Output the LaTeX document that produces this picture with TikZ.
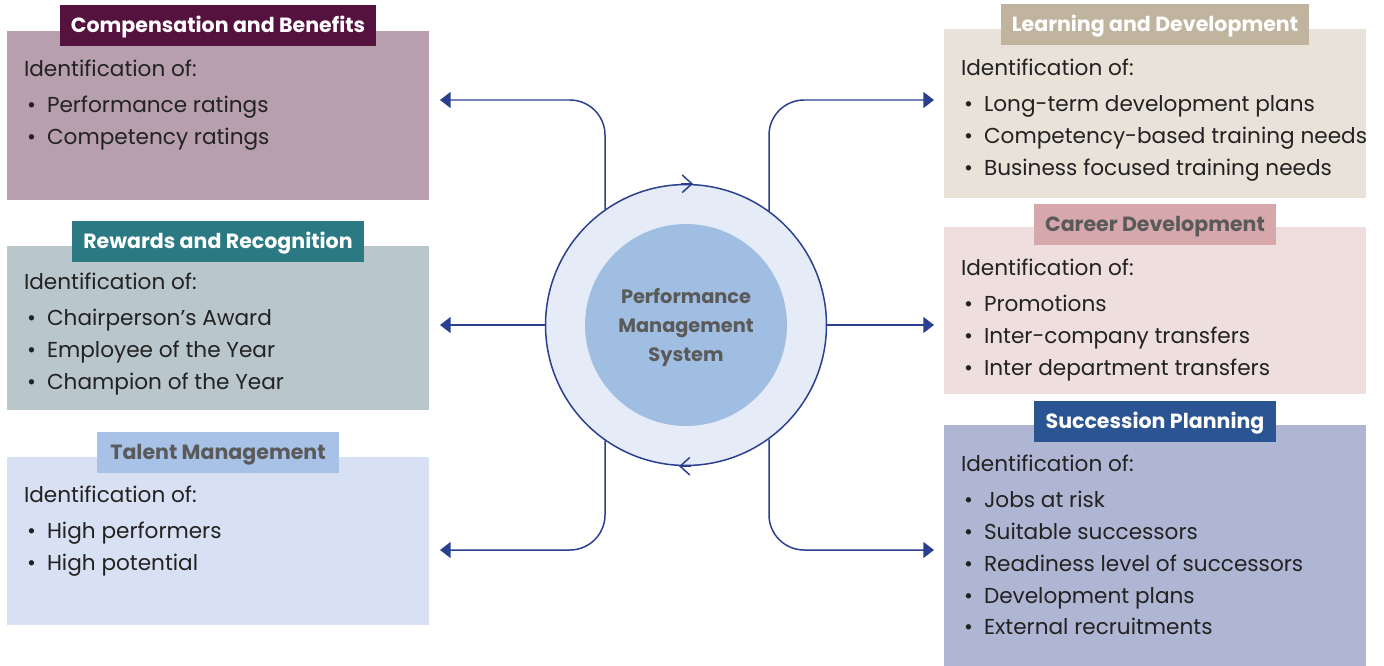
\documentclass[tikz,border=0pt]{standalone}
\usepackage{fontspec}
\setmainfont{Poppins}
\usepackage{xcolor}
\usetikzlibrary{arrows.meta,calc}
\definecolor{NavyLine}{HTML}{2B3F8F}
\definecolor{BodyText}{HTML}{222222}
\definecolor{GreyText}{HTML}{5A5A5A}
\definecolor{CompHead}{HTML}{56123F}
\definecolor{CompBody}{HTML}{B79FAD}
\definecolor{RewHead}{HTML}{2B7A83}
\definecolor{RewBody}{HTML}{B9C6CB}
\definecolor{TalHead}{HTML}{A8C2E7}
\definecolor{TalBody}{HTML}{D8E1F3}
\definecolor{LearnHead}{HTML}{C0B49E}
\definecolor{LearnBody}{HTML}{E8E2D9}
\definecolor{CarHead}{HTML}{D6A8AB}
\definecolor{CarBody}{HTML}{EEDEDE}
\definecolor{SuccHead}{HTML}{2B5592}
\definecolor{SuccBody}{HTML}{AFB6D4}
\definecolor{RingFill}{HTML}{E5ECF7}
\definecolor{CoreFill}{HTML}{A0BDE2}
\newcommand{\bul}[1]{\makebox[0.46cm][l]{\hspace{0.06cm}\textbullet}#1}

\begin{document}
\begin{tikzpicture}[x=0.02cm,y=-0.02cm,
  box/.style={rectangle,minimum width=8.44cm,inner sep=0pt},
  head/.style={rectangle,minimum width=4.84cm,minimum height=0.82cm,inner xsep=0.22cm,
    text height=8.2pt,text depth=0pt,
    font=\fontsize{11.7}{13}\selectfont\bfseries,text=white},
  body/.style={anchor=north west,align=left,inner sep=0pt,text=BodyText,
    font=\fontsize{12.3}{18.14}\selectfont},
  conn/.style={draw=NavyLine,line width=0.85pt,rounded corners=20pt,
    -{Triangle[length=6pt,width=9pt]}},
  chev/.style={draw=NavyLine,line width=0.85pt,-{Straight Barb[length=5.5pt,width=10pt]}}]
  \useasboundingbox (0,0) rectangle (1384,666);

  % boxes on the left
  \node[box,fill=CompBody,minimum height=3.38cm] (cb) at (218,115.5) {};
  \node[box,fill=RewBody,minimum height=3.28cm] (rr) at (218,328) {};
  \node[box,fill=TalBody,minimum height=3.36cm] (tm) at (218,541) {};
  % boxes on the right
  \node[box,fill=LearnBody,minimum height=3.38cm] (ld) at (1155,113.5) {};
  \node[box,fill=CarBody,minimum height=3.34cm] (cd) at (1155,310.5) {};
  \node[box,fill=SuccBody,minimum height=4.82cm] (sp) at (1155,545.5) {};

  % headers
  \node[head,fill=CompHead] at ([yshift=0.1cm]cb.north) {Compensation and Benefits};
  \node[head,fill=RewHead] at ([yshift=0.08cm]rr.north) {Rewards and Recognition};
  \node[head,fill=TalHead,text=GreyText] at ([yshift=0.08cm]tm.north) {Talent Management};
  \node[head,fill=LearnHead] at ([yshift=0.08cm]ld.north) {Learning and Development};
  \node[head,fill=CarHead,text=GreyText] at ([yshift=0.05cm]cd.north) {Career Development};
  \node[head,fill=SuccHead] at ([yshift=0.06cm]sp.north) {Succession Planning};

  % texts
  \node[body] at ([xshift=0.34cm,yshift=-0.58cm]cb.north west)
    {Identification of:\\[2.3pt]\bul{Performance ratings}\\\bul{Competency ratings}};
  \node[body] at ([xshift=0.34cm,yshift=-0.54cm]rr.north west)
    {Identification of:\\[2.3pt]\bul{Chairperson's Award}\\\bul{Employee of the Year}\\\bul{Champion of the Year}};
  \node[body] at ([xshift=0.34cm,yshift=-0.58cm]tm.north west)
    {Identification of:\\[2.3pt]\bul{High performers}\\\bul{High potential}};
  \node[body] at ([xshift=0.34cm,yshift=-0.6cm]ld.north west)
    {Identification of:\\[2.3pt]\bul{Long-term development plans}\\\bul{Competency-based training needs}\\\bul{Business focused training needs}};
  \node[body] at ([xshift=0.34cm,yshift=-0.64cm]cd.north west)
    {Identification of:\\[2.3pt]\bul{Promotions}\\\bul{Inter-company transfers}\\\bul{Inter department transfers}};
  \node[body] at ([xshift=0.34cm,yshift=-0.6cm]sp.north west)
    {Identification of:\\[2.3pt]\bul{Jobs at risk}\\\bul{Suitable successors}\\\bul{Readiness level of successors}\\\bul{Development plans}\\\bul{External recruitments}};

  % central circle
  \node[circle,draw=NavyLine,line width=0.85pt,fill=RingFill,minimum size=5.62cm] (ring) at (686,325) {};
  \node[circle,fill=CoreFill,minimum size=4.04cm] (core) at (ring.center) {};
  \node[align=center,text=GreyText,font=\fontsize{11}{16.7}\selectfont\bfseries]
    (corelabel) at ([yshift=-0.05cm]core.center) {Performance\\Management\\System};
  \draw[chev] ([xshift=-0.1cm]ring.north) -- ([xshift=0.14cm]ring.north);
  \draw[chev] ([xshift=0.1cm]ring.south) -- ([xshift=-0.14cm]ring.south);

  % arrow ends
  \coordinate (cbin) at (440,100);
  \coordinate (rrin) at (440,325);
  \coordinate (tmin) at (440,550);
  \coordinate (ldin) at (934,100);
  \coordinate (cdin) at (934,325);
  \coordinate (spin) at (934,550);

  \draw[conn] (ring.125.6) |- (cbin);
  \draw[conn] (ring.west) -- (rrin);
  \draw[conn] (ring.-125.6) |- (tmin);
  \draw[conn] (ring.54.4) |- (ldin);
  \draw[conn] (ring.east) -- (cdin);
  \draw[conn] (ring.-54.4) |- (spin);
\end{tikzpicture}
\end{document}
